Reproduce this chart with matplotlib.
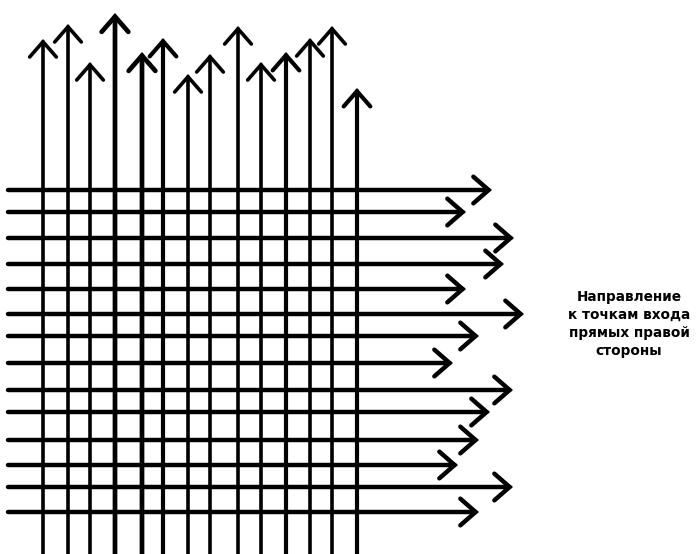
import matplotlib.pyplot as plt

# vertical arrows: x position and tip y (pixels, y down)
vx = [43, 68, 90, 115, 142, 163, 188, 210, 238, 261, 286, 310, 332, 357]
vtip = [39, 24, 62, 13, 52, 38, 74, 54, 26, 62, 52, 38, 26, 88]
vwidth = [2.6, 2.6, 2.6, 3.4, 3.4, 3.0, 2.6, 2.6, 2.6, 2.6, 3.0, 2.6, 2.6, 3.0]

# horizontal arrows: y position and tip x
hy = [190, 212, 238, 264, 289, 314, 336, 363, 390, 412, 440, 465, 487, 512]
htip = [492, 466, 514, 504, 466, 524, 479, 453, 513, 490, 479, 458, 513, 479]

label = "Направление\nк точкам входа\nпрямых правой\nстороны"

fig = plt.figure(figsize=(6.97, 5.54), dpi=100)
ax = fig.add_axes([0, 0, 1, 1])
ax.set_xlim(0, 697)
ax.set_ylim(554, 0)
ax.axis('off')

style = '->,head_length=0.55,head_width=0.48'

for y, t in zip(hy, htip):
    ax.annotate('', xy=(t, y), xytext=(8, y),
                arrowprops=dict(arrowstyle=style, lw=3.2, color='black',
                                mutation_scale=20, shrinkA=0, shrinkB=0,
                                joinstyle='miter'))

for x, t, w in zip(vx, vtip, vwidth):
    ax.annotate('', xy=(x, t), xytext=(x, 554),
                arrowprops=dict(arrowstyle=style, lw=w, color='black',
                                mutation_scale=20, shrinkA=0, shrinkB=0,
                                joinstyle='miter'))

ax.text(629, 324, label, ha='center', va='center', fontsize=9.8,
        fontweight='bold', linespacing=1.38, family='DejaVu Sans')

plt.savefig('out.png', dpi=100)
